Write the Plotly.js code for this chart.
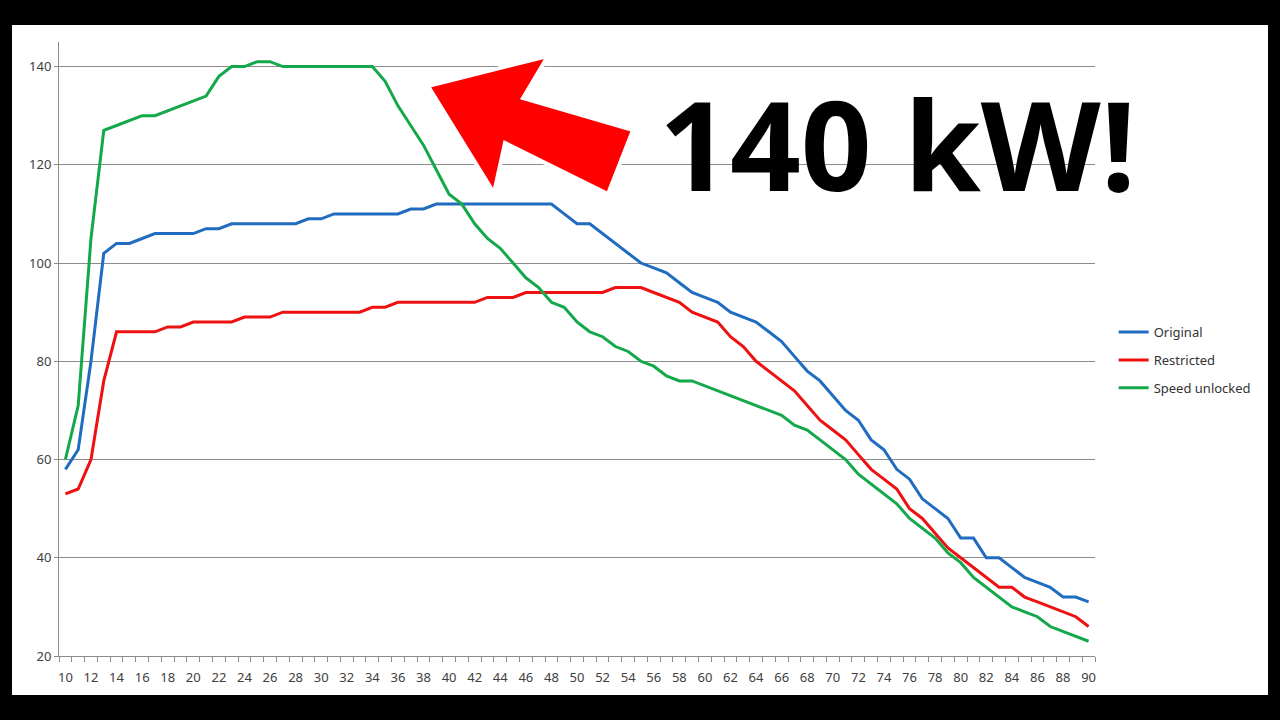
<!DOCTYPE html>
<html>
<head>
<meta charset="utf-8">
<script src="https://cdn.plot.ly/plotly-3.0.1.min.js"></script>
<style>
  html, body { margin: 0; padding: 0; background: #000; width: 1280px; height: 720px; overflow: hidden; }
  #chart { position: absolute; left: 12px; top: 25px; width: 1256px; height: 670px; background: #fff; }
</style>
</head>
<body>
<div id="chart"></div>
<script>
// Speed (km/h) categories 10..90
const speeds = [10,11,12,13,14,15,16,17,18,19,20,21,22,23,24,25,26,27,28,29,30,31,32,33,34,35,36,37,38,39,40,41,42,43,44,45,46,47,48,49,50,51,52,53,54,55,56,57,58,59,60,61,62,63,64,65,66,67,68,69,70,71,72,73,74,75,76,77,78,79,80,81,82,83,84,85,86,87,88,89,90];

const original = [58,62,80,102,104,104,105,106,106,106,106,107,107,108,108,108,108,108,108,109,109,110,110,110,110,110,110,111,111,112,112,112,112,112,112,112,112,112,112,110,108,108,106,104,102,100,99,98,96,94,93,92,90,89,88,86,84,81,78,76,73,70,68,64,62,58,56,52,50,48,44,44,40,40,38,36,35,34,32,32,31];

const restricted = [53,54,60,76,86,86,86,86,87,87,88,88,88,88,89,89,89,90,90,90,90,90,90,90,91,91,92,92,92,92,92,92,92,93,93,93,94,94,94,94,94,94,94,95,95,95,94,93,92,90,89,88,85,83,80,78,76,74,71,68,66,64,61,58,56,54,50,48,45,42,40,38,36,34,34,32,31,30,29,28,26];

const speedUnlocked = [60,71,105,127,128,129,130,130,131,132,133,134,138,140,140,141,141,140,140,140,140,140,140,140,140,137,132,128,124,119,114,112,108,105,103,100,97,95,92,91,88,86,85,83,82,80,79,77,76,76,75,74,73,72,71,70,69,67,66,64,62,60,57,55,53,51,48,46,44,41,39,36,34,32,30,29,28,26,25,24,23];

const seriesNames = ['Original', 'Restricted', 'Speed unlocked'];
const seriesColors = ['#1f6cc0', '#ee1111', '#13a84a'];
const xTickVals = [10,12,14,16,18,20,22,24,26,28,30,32,34,36,38,40,42,44,46,48,50,52,54,56,58,60,62,64,66,68,70,72,74,76,78,80,82,84,86,88,90];
const yTickVals = [20,40,60,80,100,120,140];
const headline = '140 kW!';

const seriesData = [original, restricted, speedUnlocked];
const traces = seriesData.map((vals, i) => ({
  type: 'scatter',
  mode: 'lines',
  x: speeds,
  y: vals,
  name: seriesNames[i],
  legendgroup: 'g' + i,
  line: { color: seriesColors[i], width: 3 }
}));

// plot-area pixel geometry helpers (for decorations only)
const plotL = 47, plotW = 1036, plotT = 17, plotH = 614;
const px = (x) => (x - 59) / plotW;
const py = (y) => (656 - y) / plotH;
const arrowPts = [[428,86],[548,56],[523,98],[633,130],[608,194],[505,143],[494,193]];
const arrowPath = 'M ' + arrowPts.map(p => px(p[0]).toFixed(4) + ' ' + py(p[1]).toFixed(4)).join(' L ') + ' Z';

const gridCol = '#8c8c8c';
const layout = {
  width: 1256, height: 670,
  margin: { l: plotL, r: 173, t: plotT, b: 39, pad: 0 },
  paper_bgcolor: '#ffffff',
  plot_bgcolor: '#ffffff',
  font: { family: 'Noto Sans, DejaVu Sans, sans-serif', size: 13, color: '#404040' },
  showlegend: true,
  legend: {
    x: 1.018, y: 0.482, xanchor: 'left', yanchor: 'middle',
    font: { size: 13, color: '#333333' },
    tracegroupgap: 8,
    bgcolor: 'rgba(0,0,0,0)'
  },
  xaxis: {
    range: [9.5, 90.5],
    tickmode: 'array', tickvals: xTickVals, ticktext: xTickVals.map(String),
    ticks: '', showgrid: false, zeroline: false,
    showline: true, linecolor: gridCol, linewidth: 1,
    ticklabelstandoff: 9,
    tickfont: { size: 13, color: '#404040' },
    minor: { tick0: 9.5, dtick: 1, ticks: 'outside', ticklen: 5, tickcolor: gridCol, showgrid: false },
    fixedrange: true
  },
  yaxis: {
    range: [20, 145],
    tickmode: 'array', tickvals: yTickVals,
    ticks: 'outside', ticklen: 4, tickcolor: gridCol,
    showgrid: true, gridcolor: gridCol, gridwidth: 1,
    zeroline: false, showline: true, linecolor: gridCol, linewidth: 1,
    tickfont: { size: 13, color: '#404040' },
    fixedrange: true
  },
  shapes: [{
    type: 'path', xref: 'paper', yref: 'paper',
    path: arrowPath,
    fillcolor: '#ff0000',
    line: { color: '#ffffff', width: 4 },
    layer: 'above'
  }],
  annotations: [{
    xref: 'paper', yref: 'paper',
    x: px(897), y: py(143),
    xanchor: 'center', yanchor: 'middle',
    text: headline, showarrow: false,
    font: { family: 'Open Sans, Noto Sans, sans-serif', size: 124, color: '#000000', weight: 700 }
  }]
};

Plotly.newPlot('chart', traces, layout, { displayModeBar: false, staticPlot: true });
</script>
</body>
</html>
